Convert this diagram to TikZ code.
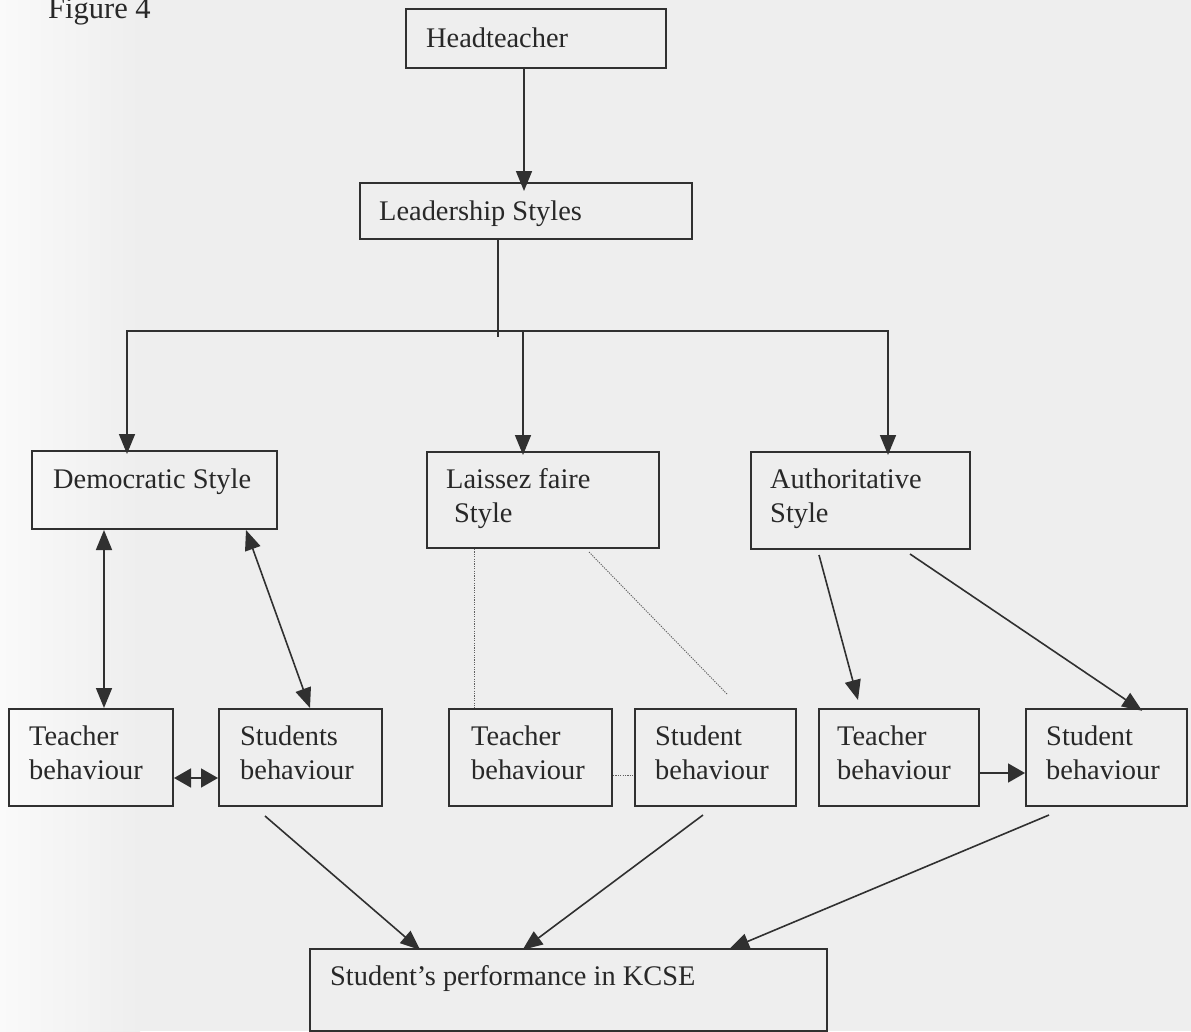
\documentclass[tikz,border=0pt]{standalone}
\usepackage{fontspec}
\setmainfont{Liberation Serif}
\usetikzlibrary{arrows.meta}
\definecolor{bgc}{RGB}{238,238,238}
\definecolor{bgl}{RGB}{250,250,250}
\definecolor{ink}{RGB}{40,40,40}
\definecolor{lineink}{RGB}{48,48,48}
\definecolor{dotink}{RGB}{95,95,95}
\begin{document}
\begin{tikzpicture}[x=1pt,y=-1pt,
  box/.style={draw=lineink,line width=2pt,inner sep=0pt,anchor=north west},
  txt/.style={anchor=base west,inner sep=0pt,text=ink,font=\fontsize{28.4}{34}\selectfont},
  ln/.style={draw=lineink,line width=1.6pt},
  arr/.style={ln,-{Triangle[length=20pt,width=16pt]}},
  darr/.style={ln,{Triangle[length=20pt,width=16pt]}-{Triangle[length=20pt,width=16pt]}},
  sarr/.style={ln,{Triangle[length=17pt,width=19pt]}-{Triangle[length=17pt,width=19pt]}},
  harr/.style={ln,-{Triangle[length=17pt,width=19pt]}},
  dots/.style={draw=dotink,line width=0.9pt,dash pattern=on 1.2pt off 1.2pt}]
% background and bounding box
\useasboundingbox (0,0) rectangle (1191,1031);
\shade[left color=bgl,right color=bgc] (0,0) rectangle (140,1031);
\fill[bgc] (140,0) rectangle (1191,1031);

% title
\node[anchor=base west,inner sep=0pt,text=ink,font=\fontsize{30.5}{36}\selectfont] (fig) at (48,18) {Figure 4};

% boxes
\node[box,minimum width=260pt,minimum height=59pt] (head) at (405,8) {};
\node[box,minimum width=332pt,minimum height=56pt] (lead) at (359,182) {};
\node[box,minimum width=245pt,minimum height=78pt] (demo) at (31,450) {};
\node[box,minimum width=232pt,minimum height=96pt] (lais) at (426,451) {};
\node[box,minimum width=219pt,minimum height=97pt] (auth) at (750,451) {};
\node[box,minimum width=164pt,minimum height=97pt] (t1) at (8,708) {};
\node[box,minimum width=163pt,minimum height=97pt] (s1) at (218,708) {};
\node[box,minimum width=163pt,minimum height=97pt] (t2) at (448,708) {};
\node[box,minimum width=161pt,minimum height=97pt] (s2) at (634,708) {};
\node[box,minimum width=160pt,minimum height=97pt] (t3) at (818,708) {};
\node[box,minimum width=161pt,minimum height=97pt] (s3) at (1025,708) {};
\node[box,minimum width=517pt,minimum height=82pt] (perf) at (309,948) {};

% texts
\node[txt] (thead) at (426,47) {Headteacher};
\node[txt] (tlead) at (379,220) {Leadership Styles};
\node[txt] (tdemo) at (53,488) {Democratic Style};
\node[txt] (tlais) at (446,488) {\parbox[t]{300pt}{Laissez faire\\\hspace*{8pt}Style}};
\node[txt] (tauth) at (770,488) {\parbox[t]{300pt}{Authoritative\\Style}};
\node[txt] (tt1) at (29,745) {\parbox[t]{200pt}{Teacher\\behaviour}};
\node[txt] (ts1) at (240,745) {\parbox[t]{200pt}{Students\\behaviour}};
\node[txt] (tt2) at (471,745) {\parbox[t]{200pt}{Teacher\\behaviour}};
\node[txt] (ts2) at (655,745) {\parbox[t]{200pt}{Student\\behaviour}};
\node[txt] (tt3) at (837,745) {\parbox[t]{200pt}{Teacher\\behaviour}};
\node[txt] (ts3) at (1046,745) {\parbox[t]{200pt}{Student\\behaviour}};
\node[txt] (tperf) at (330,985) {Student’s performance in KCSE};

% connectors
\draw[arr,shorten >=-9pt] ([xshift=-12pt]head.south) -- ([xshift=-12pt]head.south |- lead.north);
\coordinate (bj) at (498,331);
\draw[ln] (lead.south -| bj) -- ([yshift=-6pt]bj);
\draw[arr,shorten >=-4pt] (bj) -| ([xshift=-27.5pt]demo.north);
\draw[arr,shorten >=-4pt] (bj) -| ([xshift=27.5pt]auth.north);
\draw[arr,shorten >=-4pt] ([xshift=-20pt]lais.north |- bj) -- ([xshift=-20pt]lais.north);

\draw[darr] ([xshift=-50.5pt]demo.south) -- ([xshift=13pt]t1.north);
\draw[darr] ([xshift=91.5pt]demo.south) -- ([xshift=9.5pt]s1.north);
\draw[sarr] ([yshift=-20.5pt]t1.east) -- ([yshift=-20.5pt]t1.east -| s1.west);

\draw[dots] ([xshift=-69pt]lais.south) -- ([xshift=-69pt]lais.south |- t2.north);
\draw[dots] ([xshift=46pt,yshift=-3pt]lais.south) -- ([xshift=11.5pt,yshift=14pt]s2.north);
\draw[dots] ([yshift=-17.5pt]t2.east) -- ([yshift=-17.5pt]t2.east -| s2.west);

\draw[arr] ([xshift=-41.5pt,yshift=-5pt]auth.south) -- ([xshift=-41pt,yshift=8pt]t3.north);
\draw[arr,shorten >=-5pt] ([xshift=49.5pt,yshift=-4pt]auth.south) -- ([xshift=31.5pt]s3.north);
\draw[harr] ([yshift=-15.5pt]t3.east) -- ([yshift=-15.5pt]t3.east -| s3.west);

\draw[arr,shorten >=-3pt] ([xshift=-35.5pt,yshift=-9pt]s1.south) -- ([xshift=-150.5pt]perf.north);
\draw[arr,shorten >=-3pt] ([xshift=-12.5pt,yshift=-8pt]s2.south) -- ([xshift=-43.5pt]perf.north);
\draw[arr,shorten >=-3pt] ([xshift=-57.5pt,yshift=-8pt]s3.south) -- ([xshift=163.5pt]perf.north);
\end{tikzpicture}
\end{document}
